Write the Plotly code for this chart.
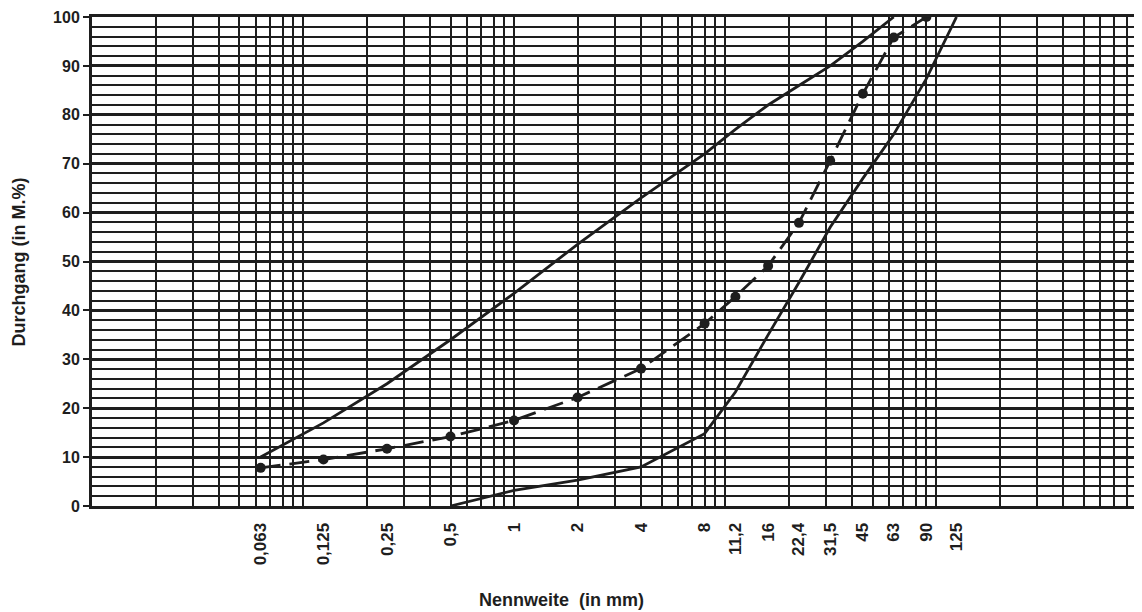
import plotly.graph_objects as go

# ---- data ----
sieve_labels = ["0,063", "0,125", "0,25", "0,5", "1", "2", "4", "8", "11,2",
                "16", "22,4", "31,5", "45", "63", "90", "125"]
sieve_sizes = [0.063, 0.125, 0.25, 0.5, 1, 2, 4, 8, 11.2, 16, 22.4, 31.5, 45, 63, 90, 125]

upper_sizes = [0.063, 0.125, 0.25, 0.5, 1, 2, 4, 8, 11.2, 16, 22.4, 31.5, 45, 63]
upper_pass = [10, 17, 25, 34, 43.5, 53.5, 63, 72, 77, 82, 86, 90, 95, 100]

sample_sizes = [0.063, 0.125, 0.25, 0.5, 1, 2, 4, 8, 11.2, 16, 22.4, 31.5, 45, 63, 90]
sample_pass = [7.8, 9.5, 11.7, 14.2, 17.5, 22.2, 28.1, 37.3, 42.8, 49.1, 57.9, 70.6, 84.3, 95.8, 100]

lower_sizes = [0.5, 1, 2, 4, 8, 11.2, 16, 22.4, 31.5, 45, 63, 90, 125]
lower_pass = [0, 3.2, 5.3, 8, 14.8, 23.3, 35, 45.7, 57, 67, 76, 87.4, 100]

y_ticks = [0, 10, 20, 30, 40, 50, 60, 70, 80, 90, 100]

# log grid positions (1..9 per decade)
grid_decades = [0.01, 0.1, 1, 10, 100]
grid_x = [d * m for d in grid_decades for m in range(1, 10)]

INK = "#1e1e1e"
FONT = "Liberation Sans, Arial, sans-serif"

fig = go.Figure()
line_style = dict(color=INK, width=2.8)
# limit curves on the grid axis (x), sample curve on the labelled axis (x2); both share one range
fig.add_trace(go.Scatter(x=upper_sizes, y=upper_pass, mode="lines", line=line_style,
                         xaxis="x", yaxis="y", showlegend=False, hoverinfo="skip"))
fig.add_trace(go.Scatter(x=lower_sizes, y=lower_pass, mode="lines", line=line_style,
                         xaxis="x", yaxis="y", showlegend=False, hoverinfo="skip"))
fig.add_trace(go.Scatter(x=sample_sizes, y=sample_pass, mode="lines+markers",
                         line=dict(color=INK, width=2.8, dash="20px,9px"),
                         marker=dict(color=INK, size=10),
                         xaxis="x2", yaxis="y", showlegend=False, hoverinfo="skip"))

xr = [-2, 2.976]
# the page adds an 8px body margin, so the figure is 8px smaller and margins shifted accordingly
fig.update_layout(
    width=1134, height=604,
    margin=dict(l=84, r=0, t=9, b=106, autoexpand=False),
    paper_bgcolor="white", plot_bgcolor="white",
    font=dict(family=FONT, color=INK),
    xaxis=dict(type="log", range=xr, tickmode="array", tickvals=grid_x,
               showticklabels=False, ticks="", showgrid=True, automargin=False,
               gridcolor=INK, gridwidth=1.7, zeroline=False,
               showline=True, linecolor=INK, linewidth=3, mirror=True),
    xaxis2=dict(type="log", range=xr, overlaying="x", side="bottom", anchor="y",
                tickmode="array", tickvals=sieve_sizes, ticktext=sieve_labels,
                tickangle=-90, showgrid=False, zeroline=False, showline=False,
                automargin=False,
                ticks="outside", ticklen=9, tickcolor="rgba(0,0,0,0)",
                tickfont=dict(family=FONT, size=17, weight="bold", color=INK)),
    yaxis=dict(range=[0, 100], tickmode="array", tickvals=y_ticks,
               showgrid=True, gridcolor=INK, gridwidth=3, zeroline=False,
               showline=True, linecolor=INK, linewidth=3, automargin=False,
               ticks="outside", ticklen=6, tickwidth=2, tickcolor=INK,
               tickfont=dict(family=FONT, size=16, weight="bold", color=INK),
               minor=dict(dtick=2, showgrid=True, gridcolor=INK, gridwidth=1.5, ticks="")),
    annotations=[
        dict(text="Nennweite  (in mm)", xref="paper", yref="paper",
             x=0.4467, y=-0.193, showarrow=False, xanchor="center", yanchor="middle",
             font=dict(family=FONT, size=18, weight="bold", color=INK)),
        dict(text="Durchgang (in M.%)", xref="paper", yref="paper",
             x=-0.0695, y=0.498, textangle=-90, showarrow=False,
             xanchor="center", yanchor="middle",
             font=dict(family=FONT, size=18, weight="bold", color=INK)),
    ],
)

fig.write_html("out.html")
